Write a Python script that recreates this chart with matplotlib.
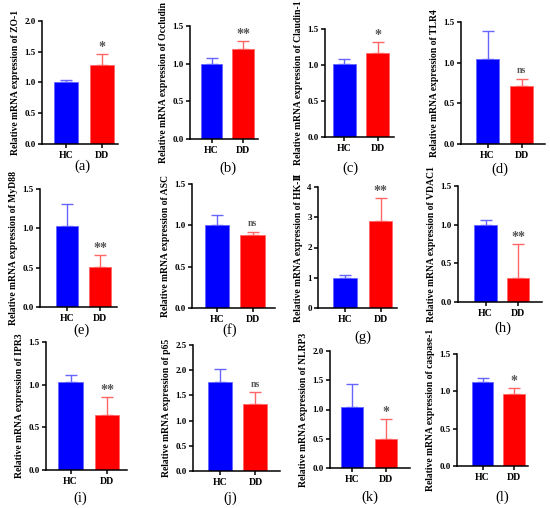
import matplotlib
matplotlib.use('Agg')
import matplotlib.pyplot as plt

plt.rcParams['font.family'] = ['Liberation Serif', 'DejaVu Serif']

groups = ['HC', 'DD']
genes = ['ZO-1', 'Occludin', 'Claudin-1', 'TLR4', 'MyD88', 'ASC',
         'HK-\u2161', 'VDAC1', 'IPR3', 'p65', 'NLRP3', 'caspase-1']
panel_tags = ['(a)', '(b)', '(c)', '(d)', '(e)', '(f)',
              '(g)', '(h)', '(i)', '(j)', '(k)', '(l)']
hc_mean = [1.00, 1.00, 1.01, 1.04, 1.03, 1.01, 1.00, 1.00, 1.03, 1.76, 1.05, 1.13]
hc_err = [0.04, 0.07, 0.08, 0.35, 0.28, 0.12, 0.10, 0.06, 0.08, 0.26, 0.38, 0.05]
dd_mean = [1.28, 1.20, 1.17, 0.71, 0.51, 0.88, 2.86, 0.31, 0.65, 1.32, 0.50, 0.96]
dd_err = [0.18, 0.10, 0.15, 0.09, 0.15, 0.04, 0.76, 0.44, 0.20, 0.24, 0.33, 0.09]
signif = ['*', '**', '*', 'ns', '**', 'ns', '**', '**', '**', 'ns', '*', '*']
y_max = [2.0, 1.5, 1.5, 1.5, 1.5, 1.5, 4, 1.5, 1.5, 2.5, 2.0, 1.5]
y_step = [0.5, 0.5, 0.5, 0.5, 0.5, 0.5, 1, 0.5, 0.5, 0.5, 0.5, 0.5]

# axes geometry in pixels: left, right, top, bottom, hc centre, dd centre, bar width
geom = [
    (42, 118, 21, 144, 66, 102, 24),
    (190, 258, 26, 139, 211.5, 243, 21.5),
    (325, 394, 29, 137, 344, 377.5, 23),
    (461, 545, 22, 144, 487.5, 521.5, 23),
    (40, 117, 189, 307, 67, 100, 22),
    (192, 275, 184, 308, 217, 252.5, 24.5),
    (318, 397, 187, 308, 345, 380.5, 23.5),
    (458, 542, 186, 302, 485.5, 518, 22.5),
    (46, 127, 342, 470, 70.5, 107, 24.5),
    (193, 280, 345, 471, 220, 255.5, 24),
    (330, 410, 351, 468, 352, 386, 22),
    (457, 528, 354, 466, 482.5, 514, 21.5),
]
tag_pos = [(82, 166), (228, 168), (350, 168), (500, 169),
           (82, 330), (230, 330), (363, 337), (503, 328),
           (80, 498), (230, 498), (370, 497), (502, 497)]

W, H = 550, 508
fig = plt.figure(figsize=(W / 100, H / 100), dpi=100)

bar_cols = ['#0000ff', '#ff0000']
err_cols = ['#6666ff', '#ff6666']

for i, gene in enumerate(genes):
    l, r, t, b, c1, c2, bw = geom[i]
    ax = fig.add_axes([l / W, 1 - b / H, (r - l) / W, (b - t) / H])
    sp = c2 - c1
    means = [hc_mean[i], dd_mean[i]]
    errs = [hc_err[i], dd_err[i]]
    for k in range(2):
        ax.bar(k, means[k], width=bw / sp, color=bar_cols[k],
               edgecolor=err_cols[k], linewidth=0.6, zorder=2)
        ax.errorbar(k, means[k], yerr=[[0], [errs[k]]], fmt='none',
                    ecolor=err_cols[k], elinewidth=1.0, capsize=4, capthick=1.0, zorder=1)
    top = means[1] + errs[1]
    if signif[i] == 'ns':
        ax.text(1, top + y_max[i] * 0.03, signif[i], ha='center', va='bottom',
                color='#555555', fontsize=7, fontweight='bold')
    else:
        ax.text(1, top, signif[i], ha='center', va='bottom',
                color='#555555', fontsize=10, fontweight='bold')
    ax.set_xlim((l - c1) / sp, 1 + (r - c2) / sp)
    ax.set_ylim(0, y_max[i])
    n = int(round(y_max[i] / y_step[i]))
    ticks = [y_step[i] * j for j in range(n + 1)]
    ax.set_yticks(ticks)
    if y_step[i] == 1:
        ax.set_yticklabels([str(int(v)) for v in ticks])
    else:
        ax.set_yticklabels(['%.1f' % v for v in ticks])
    ax.set_xticks([0, 1])
    ax.set_xticklabels(groups)
    for s in ['top', 'right']:
        ax.spines[s].set_visible(False)
    for s in ['left', 'bottom']:
        ax.spines[s].set_linewidth(1.1)
    ax.tick_params(axis='y', labelsize=6.5, length=3, width=1.1, pad=1.5)
    ax.tick_params(axis='x', labelsize=7, length=3, width=1.1, pad=2)
    for lab in ax.get_xticklabels() + ax.get_yticklabels():
        lab.set_fontweight('bold')
    ax.set_ylabel('Relative mRNA expression of ' + gene, fontsize=6.9,
                  fontweight='bold', labelpad=3)
    tx, ty = tag_pos[i]
    fig.text(tx / W, 1 - ty / H, panel_tags[i], ha='center', va='center', fontsize=10.5)

fig.savefig('out.png', dpi=100)
